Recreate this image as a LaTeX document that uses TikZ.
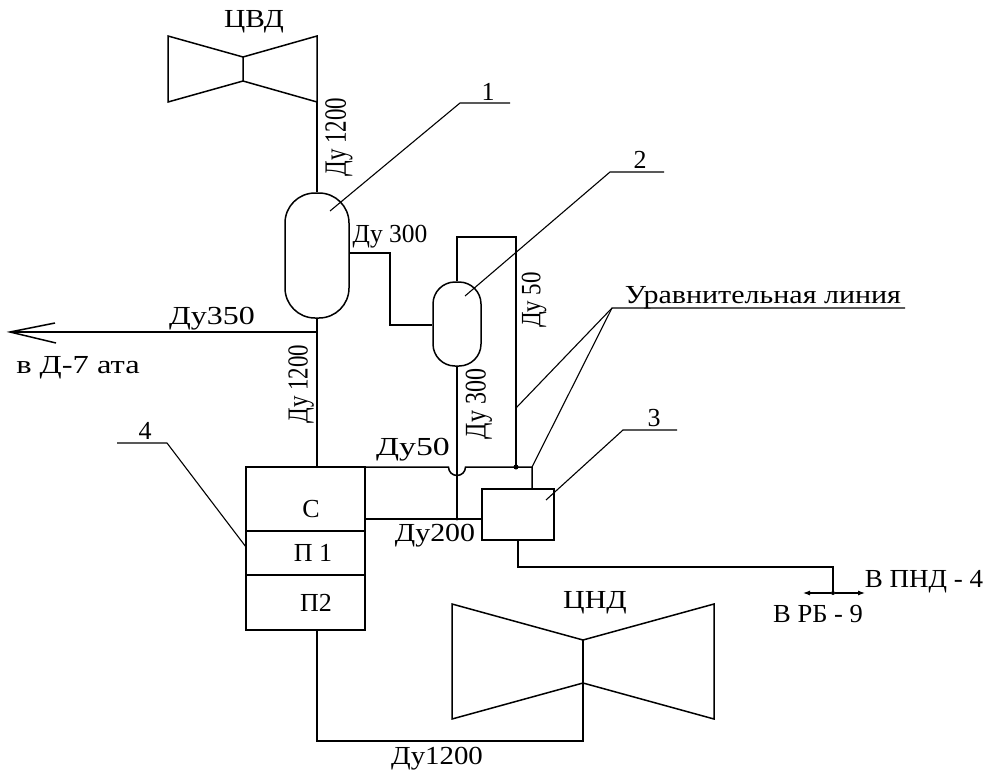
\documentclass[tikz,border=0pt]{standalone}
\usepackage{fontspec}
\usepackage{graphicx}
\usetikzlibrary{arrows.meta}
\setmainfont{Liberation Serif}
\newcommand{\hs}[2]{\scalebox{#1}[1]{#2}}
\tikzset{
  ln/.style={draw=black,line width=1.5pt,line join=miter},
  thin ln/.style={draw=black,line width=1.1pt},
  lab/.style={inner sep=0pt,font=\fontsize{26}{28}\selectfont},
  dot/.style={circle,fill=black,inner sep=0pt,minimum size=5pt},
  shell/.style={draw=black,line width=1.5pt,inner sep=0pt}
}
\begin{document}
\begin{tikzpicture}[x=1pt,y=-1pt]
\useasboundingbox (0,0) rectangle (987,771);
% turbines
\draw[ln] (243,57) -- (168,36) -- (168,102) -- (243,81) -- cycle;
\draw[ln] (243,57) -- (317,36) -- (317,102) -- (243,81);
\draw[ln] (583,640) -- (452,604) -- (452,719) -- (583,683);
\draw[ln] (583,640) -- (714,604) -- (714,719) -- (583,683);
% vessels
\node[shell,rounded corners=30pt,minimum width=64pt,minimum height=125pt] (v1) at (317,255.5) {};
\node[shell,rounded corners=22pt,minimum width=48pt,minimum height=84pt] (v2) at (457,324) {};
% boxes
\node[shell,minimum width=119pt,minimum height=163pt] (b4) at (305.5,548.5) {};
\node[shell,minimum width=72pt,minimum height=51pt] (b3) at (518,514.5) {};
\draw[ln] (b4.west |- 0,531) -- (b4.east |- 0,531);
\draw[ln] (b4.west |- 0,575) -- (b4.east |- 0,575);
% pipes
\coordinate (tvd) at (317,102);
\coordinate (j1) at (317,332);
\coordinate (hd) at (10,332);
\draw[ln] (tvd) -- (v1.north);
\draw[ln] (v1.south) -- (b4.north -| v1.south);
\draw[ln] (j1) -- (hd);
\draw[ln] (55,323) -- (hd) -- (56,343);
\draw[ln] (v1.east |- 0,253) -- (390,253) -- (390,325) -- (v2.west |- 0,325);
\draw[ln] (v2.north) -- (457,237) -- (516,237) -- (516,467);
\draw[ln] (v2.south) -- (457,519);
\draw[ln] (365,467) -- (448.5,467) arc[start angle=180,end angle=0,radius=8.5] -- (532,467) -- (532,489);
\draw[ln] (365,519) -- (482,519);
\node[dot] (d1) at (516,467) {};
\node[dot,minimum size=3pt] (d2) at (457,519) {};
\draw[ln] (518,540) -- (518,567) -- (833,567) -- (833,593);
\node[dot,minimum size=4pt] (d3) at (833,593) {};
\draw[thin ln,-{Latex[length=7pt,width=5pt]}] (d3) -- (865,593);
\draw[thin ln,-{Latex[length=7pt,width=5pt]}] (d3) -- (803,593);
\draw[ln] (317,630) -- (317,741) -- (583,741) -- (583,640);
% leaders
\draw[thin ln] (330,211) -- (460,103) -- (510,103);
\draw[thin ln] (465,296) -- (610,172) -- (664,172);
\draw[thin ln] (546,500) -- (623,430) -- (677,430);
\draw[thin ln] (246,547) -- (167,443) -- (117,443);
\draw[thin ln] (905,308) -- (612,308) -- (516,408);
\draw[thin ln] (612,308) -- (532,467);
% labels
\node[lab] (t1) at (254,22) {\hs{1.13}{ЦВД}};
\node[lab] (t2) at (595,603) {\hs{1.15}{ЦНД}};
\node[lab] (t3) at (488,92) {1};
\node[lab] (t4) at (640,160) {2};
\node[lab] (t5) at (654,418) {3};
\node[lab] (t6) at (145,431) {4};
\node[lab] (t7) at (390,237) {\hs{.98}{Ду 300}};
\node[lab] (t8) at (212,319) {\hs{1.23}{Ду350}};
\node[lab] (t9) at (78,368) {\hs{1.25}{в Д-7 ата}};
\node[lab] (t10) at (413,450) {\hs{1.3}{Ду50}};
\node[lab] (t11) at (435,536) {\hs{1.15}{Ду200}};
\node[lab] (t12) at (763,298) {\hs{1.155}{Уравнительная линия}};
\node[lab] (t13) at (311,509) {С};
\node[lab] (t14) at (313,553) {П 1};
\node[lab] (t15) at (316,603) {П2};
\node[lab] (t16) at (924,582) {\hs{1.04}{В ПНД - 4}};
\node[lab] (t17) at (818,614) {\hs{1.02}{В РБ - 9}};
\node[lab] (t18) at (437,759) {\hs{1.11}{Ду1200}};
\node[lab,rotate=90,font=\fontsize{31}{32}\selectfont] (t19) at (339,137) {\hs{.74}{Ду 1200}};
\node[lab,rotate=90,font=\fontsize{29}{32}\selectfont] (t20) at (301,384) {\hs{.79}{Ду 1200}};
\node[lab,rotate=90,font=\fontsize{28}{32}\selectfont] (t21) at (534,300) {\hs{.82}{Ду 50}};
\node[lab,rotate=90,font=\fontsize{30}{32}\selectfont] (t22) at (479,404) {\hs{.80}{Ду 300}};
\end{tikzpicture}
\end{document}
